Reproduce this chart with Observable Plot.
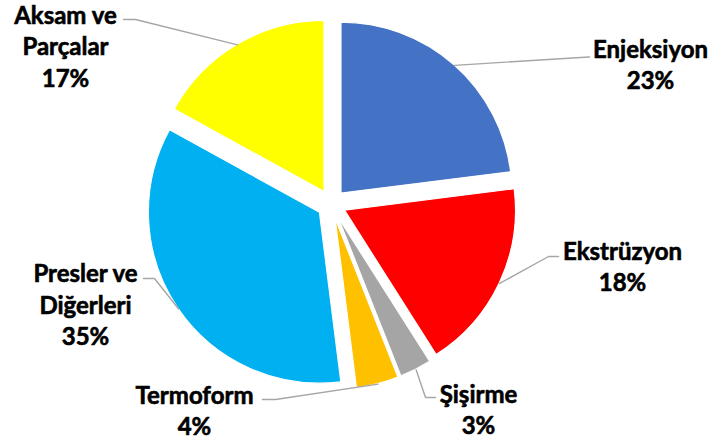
<!DOCTYPE html>
<html><head><meta charset="utf-8">
<script src="https://cdn.jsdelivr.net/npm/d3@7"></script>
<script src="https://cdn.jsdelivr.net/npm/@observablehq/plot@0.6"></script>
<style>body{margin:0;background:#fff}#chart svg{display:block}</style>
</head><body><div id="chart"></div>
<script>
// ---- data ----
const categories = ["Enjeksiyon", "Ekstrüzyon", "Şişirme", "Termoform", "Presler ve Diğerleri", "Aksam ve Parçalar"];
const shares = [23, 18, 3, 4, 35, 17];
const labelNames = ["Enjeksiyon", "Ekstrüzyon", "Şişirme", "Termoform", "Presler ve\nDiğerleri", "Aksam ve\nParçalar"];
const colors = ["#4472C4", "#FF0000", "#A5A5A5", "#FFC000", "#00B0F0", "#FFFF00"];

// ---- layout ----
const W = 716, H = 443;
const center = [331.4, 204];
const R = 171, explode = 14.5;
// label block centre and leader elbow / end points (in pixel space of the plot)
const layout = [
  {lx: 650, ly: 63, elbow: [580, 57], end: [589, 56.5]},
  {lx: 622, ly: 265, elbow: [548, 256], end: [558, 256]},
  {lx: 478, ly: 408, elbow: [425, 397], end: [435, 397]},
  {lx: 194, ly: 409, elbow: [275, 399], end: [262, 399]},
  {lx: 85, ly: 303, elbow: [154, 278], end: [143, 278]},
  {lx: 65, ly: 44.5, elbow: [135, 19], end: [123, 19]}
];

const rows = categories.map((c, i) => ({name: c, value: shares[i], color: colors[i], label: labelNames[i] + "\n" + shares[i] + "%", i}));
const arcs = d3.pie().sort(null).value(d => d.value).startAngle(0)(rows);
const arcGen = d3.arc().innerRadius(0).outerRadius(R);

const midA = a => (a.startAngle + a.endAngle) / 2;
const slicePts = arcs.map(a => {
  const m = midA(a);
  const vx = center[0] + explode * Math.sin(m), vy = center[1] - explode * Math.cos(m);
  return {a, vx, vy, ox: vx + R * Math.sin(m), oy: vy - R * Math.cos(m)};
});

const leaders = [];
slicePts.forEach((s, i) => {
  const L = layout[i];
  leaders.push({k: i, x: s.ox, y: s.oy});
  leaders.push({k: i, x: L.elbow[0], y: L.elbow[1]});
  leaders.push({k: i, x: L.end[0], y: L.end[1]});
});
const labels = rows.map((r, i) => ({x: layout[i].lx, y: layout[i].ly, text: r.label}));

const slicesMark = (index, scales) => {
  const g = d3.create("svg:g");
  const sx = scales.x || (v => v), sy = scales.y || (v => v);
  slicePts.forEach(s => {
    g.append("path")
      .attr("d", arcGen(s.a))
      .attr("transform", `translate(${sx(s.vx)},${sy(s.vy)})`)
      .attr("fill", s.a.data.color)
      .attr("stroke", "#fff")
      .attr("stroke-width", 1.2);
  });
  return g.node();
};

const chart = Plot.plot({
  width: W, height: H,
  margin: 0,
  x: {domain: [0, W], range: [0, W], axis: null},
  y: {domain: [0, H], range: [0, H], axis: null},
  style: {background: "#fff"},
  marks: [
    slicesMark,
    Plot.line(leaders, {x: "x", y: "y", z: "k", stroke: "#A6A6A6", strokeWidth: 1.4}),
    Plot.text(labels, {x: "x", y: "y", text: "text", textAnchor: "middle", lineAnchor: "middle",
      lineHeight: 1.31, fontSize: 24, fontWeight: "bold", fontFamily: "Lato, 'Open Sans', sans-serif",
      fill: "#000", stroke: "#000", strokeWidth: 0.6})
  ]
});
document.getElementById("chart").appendChild(chart);
</script>
</body></html>
